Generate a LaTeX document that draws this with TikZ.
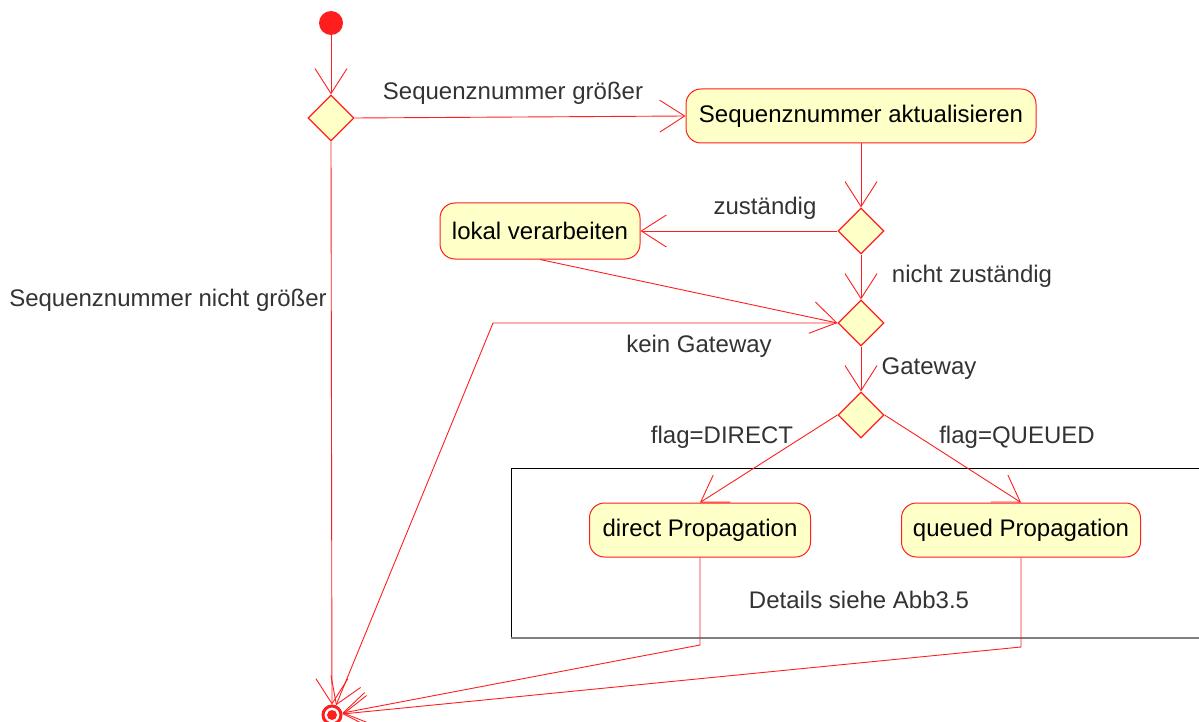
\documentclass[tikz,border=0pt]{standalone}
\usepackage{fontspec}
\setmainfont{Liberation Sans}
\usetikzlibrary{shapes.geometric,arrows.meta}
\definecolor{umlred}{RGB}{255,30,30}
\definecolor{umlfill}{RGB}{255,255,200}
\definecolor{labelgray}{RGB}{51,51,51}
\begin{document}
\begin{tikzpicture}[x=1pt,y=-1pt,
  txt/.style={font=\fontsize{24}{28}\selectfont},
  flow/.style={draw=umlred, line width=0.9pt,
    -{Straight Barb[length=25pt,width=32pt,line width=0.9pt]}},
  decision/.style={diamond, draw=umlred, fill=umlfill, line width=1.2pt,
    minimum width=46pt, minimum height=46pt, inner sep=0pt},
  action/.style={txt, rectangle, rounded corners=15pt, draw=umlred,
    fill=umlfill, line width=1pt, text=black, inner sep=0pt},
  guard/.style={txt, text=labelgray, inner sep=0pt},
]
\useasboundingbox (0,0) rectangle (1199,722);

% frame for the propagation details
\draw[black, line width=1pt] (1199,468) -- (511,468) -- (511,638);
\draw[gray, line width=1.6pt] (511,638) -- (1199,638);
\node[guard] (details) at (859,600) {Details siehe Abb3.5};

% initial and final nodes
\node[circle, fill=umlred, minimum size=24pt, inner sep=0pt] (start) at (331,23) {};
\node[circle, draw=umlred, line width=3pt, minimum size=18pt, inner sep=0pt] (end) at (332,715) {};
\fill[umlred] (end.center) circle (5pt);

% decisions
\node[decision] (d1) at (331,118) {};
\node[decision] (d2) at (861,231) {};
\node[decision] (d3) at (861,323) {};
\node[decision] (d4) at (861,415) {};

% actions
\node[action, minimum width=350pt, minimum height=54pt] (seq) at (861,116) {Sequenznummer aktualisieren};
\node[action, minimum width=200pt, minimum height=56pt] (lokal) at (540,231) {lokal verarbeiten};
\node[action, minimum width=221pt, minimum height=54pt] (direct) at (700,530) {direct Propagation};
\node[action, minimum width=239pt, minimum height=54pt] (queued) at (1021,530) {queued Propagation};

% bend points
\coordinate (kg) at (493,323);
\coordinate (dbend) at (700,645);
\coordinate (qbend) at (1021,647);

% control flow
\draw[flow] (start) -- (d1.north);
\draw[flow] (d1.east) -- (seq.west);
\draw[flow] (d1.south) -- (end);
\draw[flow] (seq.south) -- (d2.north);
\draw[flow] (d2.west) -- (lokal.east);
\draw[flow] (d2.south) -- (d3.north);
\draw[flow] (lokal.south) -- (d3.west);
\draw[flow] (d3.west) -- (kg) -- (end);
\draw[flow] (d3.south) -- (d4.north);
\draw[flow] (d4.west) -- (direct.north);
\draw[flow] (d4.east) -- (queued.north);
\draw[flow] (direct.south) -- (dbend) -- (end);
\draw[flow] (queued.south) -- (qbend) -- (end);

% guards
\node[guard] (gGroesser) at (513,93) {Sequenznummer größer};
\node[guard] (gNicht) at (168,300) {Sequenznummer nicht größer};
\node[guard] (gZust) at (765,208) {zuständig};
\node[guard] (gNichtZust) at (972,276) {nicht zuständig};
\node[guard] (gKein) at (699,346) {kein Gateway};
\node[guard] (gGate) at (929,369) {Gateway};
\node[guard] (gDirect) at (722,437) {flag=DIRECT};
\node[guard] (gQueued) at (1017,437) {flag=QUEUED};
\end{tikzpicture}
\end{document}
